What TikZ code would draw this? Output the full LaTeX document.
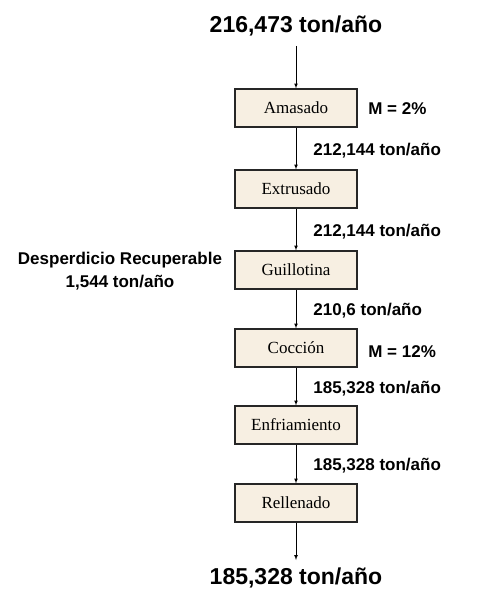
\documentclass[tikz,border=0pt]{standalone}
\usepackage{fontspec}
\setmainfont{Liberation Serif}
\newfontfamily\arial{Liberation Sans}
\usetikzlibrary{arrows, shapes}

\definecolor{crema}{RGB}{247,239,226}

\begin{document}
\begin{tikzpicture}[x=1bp, y=-1bp, >=latex, line width=0.7bp]
    \useasboundingbox (0, 0) rectangle (504, 600);
    \tikzstyle{etapa} = [draw=black!85, line width=1.2bp, fill=crema, minimum width=122bp, minimum height=38bp, inner sep=0pt, font=\fontsize{17bp}{20bp}\selectfont]
    \tikzstyle{flujo} = [inner sep=0pt, xshift=17bp, yshift=-2bp, font=\arial\bfseries\fontsize{17bp}{20bp}\selectfont]
    \tikzstyle{nota} = [inner sep=0pt, anchor=west, font=\arial\bfseries\fontsize{17bp}{20bp}\selectfont]
    \tikzstyle{total} = [inner sep=0pt, font=\arial\bfseries\fontsize{23bp}{26bp}\selectfont]
    \node (entrada) [total] at (296, 26) {216,473 ton/año};
    \coordinate (e0) at (296, 46);
    \node (amasado) [etapa] at (296, 108) {Amasado};
    \node (extrusado) [etapa] at (296, 189) {Extrusado};
    \node (guillotina) [etapa] at (296, 270) {Guillotina};
    \node (coccion) [etapa] at (296, 348) {Cocción};
    \node (enfriamiento) [etapa] at (296, 425) {Enfriamiento};
    \node (rellenado) [etapa] at (296, 503) {Rellenado};
    \coordinate (s0) at (296, 560);
    \node (salida) [total] at (296, 578) {185,328 ton/año};
    \node (m1) [nota] at (368, 109) {M = 2\%};
    \node (m2) [nota] at (368, 352) {M = 12\%};
    \node (desp) [nota, anchor=center, align=center, font=\arial\bfseries\fontsize{17bp}{23bp}\selectfont] at (120, 271) {Desperdicio Recuperable\\1,544 ton/año};
    \draw [->] (e0) -- (amasado);
    \draw [->] (amasado) -- (extrusado) node[pos=.5, right, flujo] {212,144 ton/año};
    \draw [->] (extrusado) -- (guillotina) node[pos=.5, right, flujo] {212,144 ton/año};
    \draw [->] (guillotina) -- (coccion) node[pos=.5, right, flujo] {210,6 ton/año};
    \draw [->] (coccion) -- (enfriamiento) node[pos=.5, right, flujo] {185,328 ton/año};
    \draw [->] (enfriamiento) -- (rellenado) node[pos=.5, right, flujo] {185,328 ton/año};
    \draw [->] (rellenado) -- (s0);
\end{tikzpicture}
\end{document}
